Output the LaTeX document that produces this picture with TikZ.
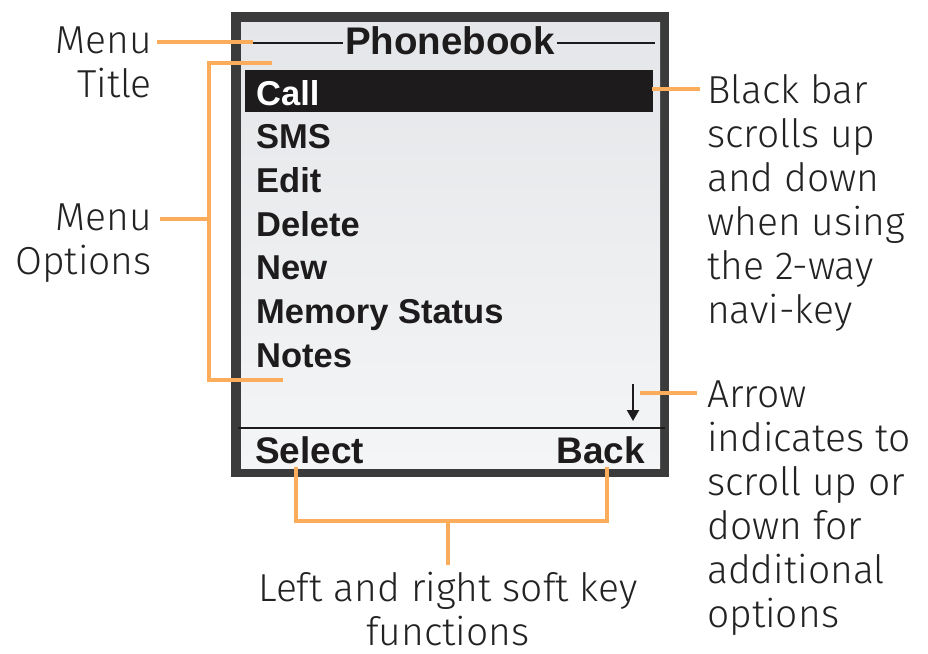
\documentclass[tikz,border=0pt]{standalone}
\usepackage{fontspec}
\setmainfont{Fira Sans}[UprightFont={* Light}]
\newfontfamily\screenfont{Liberation Sans}
\usetikzlibrary{positioning,arrows.meta}

\definecolor{leadorange}{HTML}{FBAD5C}
\definecolor{framegray}{HTML}{3B3B3B}
\definecolor{screentop}{HTML}{E5E6E9}
\definecolor{screenbot}{HTML}{F4F5F6}
\definecolor{barblack}{HTML}{1D1B1C}
\definecolor{inkgray}{HTML}{222222}

\tikzset{
  lead/.style={draw=leadorange, line width=4pt},
  note/.style={font=\fontsize{39}{44}\selectfont, text=inkgray, inner sep=0pt},
  entry/.style={font=\screenfont\bfseries\fontsize{34.5}{40}\selectfont, text=barblack, anchor=base west, inner sep=0pt},
  softkey/.style={font=\screenfont\bfseries\fontsize{37}{40}\selectfont, text=barblack, inner sep=0pt},
  menutitle/.style={font=\screenfont\bfseries\fontsize{38.5}{40}\selectfont, text=barblack, inner sep=2pt},
}

\begin{document}
\begin{tikzpicture}[x=1pt,y=-1pt]
\useasboundingbox (0,0) rectangle (928,653);

% phone screen
\fill[framegray] (231,12) rectangle (669,477);
\shade[top color=screentop, bottom color=screenbot] (241,22) rectangle (660,468);

% title row
\node[menutitle, anchor=base] (title) at (450,54) {Phonebook};
\coordinate (tleft) at (248,43);
\coordinate (tright) at (655,43);
\draw[barblack, line width=1.8pt] (tleft) -- (tleft -| title.west);
\draw[barblack, line width=1.8pt] (title.east |- tright) -- (tright);

% menu entries
\fill[barblack] (245,70) rectangle (653,112);
\node[entry, text=white] (entry0) at (256,105) {Call};
\foreach \t [count=\i] in {SMS,Edit,Delete,New,Memory Status,Notes}
  \node[entry] (entry\i) at (256,{105+43.7*\i}) {\t};

% scroll arrow and soft keys
\coordinate (arrtop) at (633,384);
\coordinate (arrbot) at (633,421);
\draw[barblack, line width=2pt, -{Triangle[width=12pt,length=11pt]}] (arrtop) -- (arrbot);
\draw[barblack, line width=2.5pt] (238,428) -- (665,428);
\node[softkey, anchor=base west] (select) at (255,463) {Select};
\node[softkey, anchor=base east] (back) at (645,463) {Back};

% labels (base = last line)
\node[note, align=right, anchor=base east] (titlenote) at (152,97) {Menu\\Title};
\node[note, align=right, anchor=base east] (optnote) at (152,274) {Menu\\Options};
\node[note, align=left, anchor=base west] (barnote) at (707,323)
  {Black bar\\scrolls up\\and down\\when using\\the 2-way\\navi-key};
\node[note, align=left, anchor=base west] (arrownote) at (707,627)
  {Arrow\\indicates to\\scroll up or\\down for\\additional\\options};
\node[note, align=center, anchor=base] (keynote) at (448,645)
  {Left and right soft key\\functions};

% leads
\coordinate (titletip) at (253,42);
\draw[lead] ([xshift=5pt]titlenote.east |- titletip) -- (titletip);

\coordinate (opttop) at (272,63);
\coordinate (optbot) at (283,380);
\coordinate (optspine) at (209,219);
\draw[lead] (opttop) -- (opttop -| optspine) -- (optbot -| optspine) -- (optbot);
\draw[lead] ([xshift=8pt]optnote.east |- optspine) -- (optspine);

\coordinate (bartip) at (652,89);
\draw[lead] (bartip) -- ([xshift=-7pt]barnote.west |- bartip);

\coordinate (arrowtip) at (640,393);
\draw[lead] (arrowtip) -- ([xshift=-10pt]arrownote.west |- arrowtip);

\coordinate (selfoot) at (296,467);
\coordinate (backfoot) at (607,467);
\coordinate (keyjoin) at (448,521);
\draw[lead] (selfoot) -- (selfoot |- keyjoin) -- (backfoot |- keyjoin) -- (backfoot);
\draw[lead] (keyjoin) -- ([yshift=6pt]keynote.north);
\end{tikzpicture}
\end{document}
